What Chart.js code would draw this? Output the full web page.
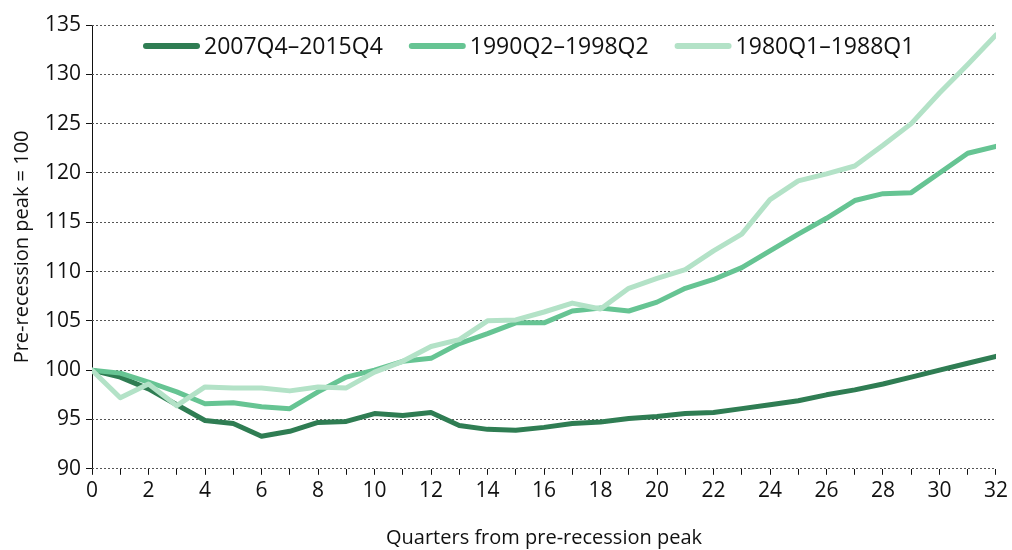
<!DOCTYPE html>
<html>
<head>
<meta charset="utf-8">
<script src="https://cdn.jsdelivr.net/npm/chart.js@4/dist/chart.umd.min.js"></script>
<style>
  html, body { margin: 0; padding: 0; background: #fff; }
  #wrap { width: 1012px; height: 550px; }
</style>
</head>
<body>
<div id="wrap"><canvas id="chart"></canvas></div>
<script>
// quarters from pre-recession peak
const quarters = [];
for (let q = 0; q <= 32; q++) quarters.push(q);

const seriesNames = ['2007Q4\u20132015Q4', '1990Q2\u20131998Q2', '1980Q1\u20131988Q1'];

const gfc = [100, 99.3, 98.1, 96.5, 94.9, 94.6, 93.3, 93.8, 94.7, 94.8, 95.6, 95.4, 95.7,
    94.4, 94.0, 93.9, 94.2, 94.6, 94.75, 95.1, 95.3, 95.6, 95.7, 96.1, 96.5, 96.9,
    97.5, 98.0, 98.6, 99.3, 100.0, 100.7, 101.4];

const early90s = [100, 99.7, 98.8, 97.8, 96.6, 96.7, 96.3, 96.1, 97.8, 99.3, 100.0, 100.9, 101.2,
    102.7, 103.7, 104.8, 104.8, 106.0, 106.3, 106.0, 106.9, 108.3, 109.2, 110.4, 112.1, 113.8,
    115.4, 117.2, 117.9, 118.0, 120.0, 122.0, 122.7];

const early80s = [100, 97.2, 98.6, 96.4, 98.3, 98.2, 98.2, 97.9, 98.3, 98.2, 99.8, 100.9, 102.4,
    103.1, 105.0, 105.1, 105.9, 106.8, 106.2, 108.3, 109.3, 110.2, 112.1, 113.8, 117.3, 119.2,
    119.9, 120.7, 122.8, 125.0, 128.1, 131.0, 134.0];

const lineColors = ['#2f7d53', '#66c493', '#b3e2c7'];

const font = 'Open Sans';

const toPoints = (vals) => vals.map((v, i) => ({ x: quarters[i], y: v }));

// legend drawn inside the plot area, along the top (in series order)
const insideLegend = {
    id: 'insideLegend',
    afterDraw(chart) {
        const ctx = chart.ctx;
        let x = 143;
        const y = 46;
        ctx.save();
        ctx.font = '23px "' + font + '"';
        ctx.textBaseline = 'middle';
        seriesNames.forEach((name, i) => {
            ctx.strokeStyle = lineColors[i];
            ctx.lineWidth = 6;
            ctx.lineCap = 'round';
            ctx.beginPath();
            ctx.moveTo(x + 3, y);
            ctx.lineTo(x + 54, y);
            ctx.stroke();
            ctx.fillStyle = '#111';
            ctx.fillText(name, x + 61, y + 1);
            x += 61 + ctx.measureText(name).width + 26;
        });
        ctx.restore();
    }
};

const ctx = document.getElementById('chart').getContext('2d');

new Chart(ctx, {
    type: 'line',
    data: {
        // lightest series drawn first, darkest on top
        datasets: [
            { label: seriesNames[2], data: toPoints(early80s), borderColor: lineColors[2] },
            { label: seriesNames[1], data: toPoints(early90s), borderColor: lineColors[1] },
            { label: seriesNames[0], data: toPoints(gfc), borderColor: lineColors[0] },
        ].map(d => Object.assign(d, {
            borderWidth: 5,
            pointRadius: 0,
            fill: false,
            tension: 0,
            borderCapStyle: 'round',
            borderJoinStyle: 'round',
        })),
    },
    options: {
        responsive: true,
        maintainAspectRatio: false,
        animation: false,
        layout: { padding: { left: 10, right: 14, top: 25, bottom: 0 } },
        plugins: {
            legend: { display: false },
            tooltip: { enabled: false },
        },
        scales: {
            x: {
                type: 'linear',
                min: 0,
                max: 32,
                border: { display: false },
                grid: {
                    // only the vertical line at 0 acts as the solid y axis
                    drawOnChartArea: true,
                    color: (c) => (c.tick && c.tick.value === 0 ? '#111' : 'rgba(0,0,0,0)'),
                    lineWidth: 1,
                    drawTicks: true,
                    tickLength: 6,
                    tickColor: '#111',
                },
                ticks: {
                    stepSize: 1,
                    autoSkip: false,
                    maxRotation: 0,
                    color: '#111',
                    padding: 4,
                    font: { family: font, size: 21 },
                    callback: (v) => (v % 2 === 0 ? v : ''),
                },
                title: {
                    display: true,
                    text: 'Quarters from pre-recession peak',
                    color: '#111',
                    font: { family: font, size: 20 },
                    padding: { top: 18, bottom: 0 },
                },
            },
            y: {
                min: 90,
                max: 135,
                border: { display: false, dash: [2, 2] },
                grid: {
                    color: '#555',
                    lineWidth: 1,
                    tickLength: 6,
                    tickColor: '#111',
                    tickBorderDash: [],
                },
                ticks: {
                    stepSize: 5,
                    color: '#111',
                    padding: 5,
                    font: { family: font, size: 21 },
                },
                title: {
                    display: true,
                    text: 'Pre-recession peak = 100',
                    color: '#111',
                    font: { family: font, size: 20 },
                    padding: { top: 0, bottom: 6 },
                },
            },
        },
    },
    plugins: [insideLegend],
});
</script>
</body>
</html>
